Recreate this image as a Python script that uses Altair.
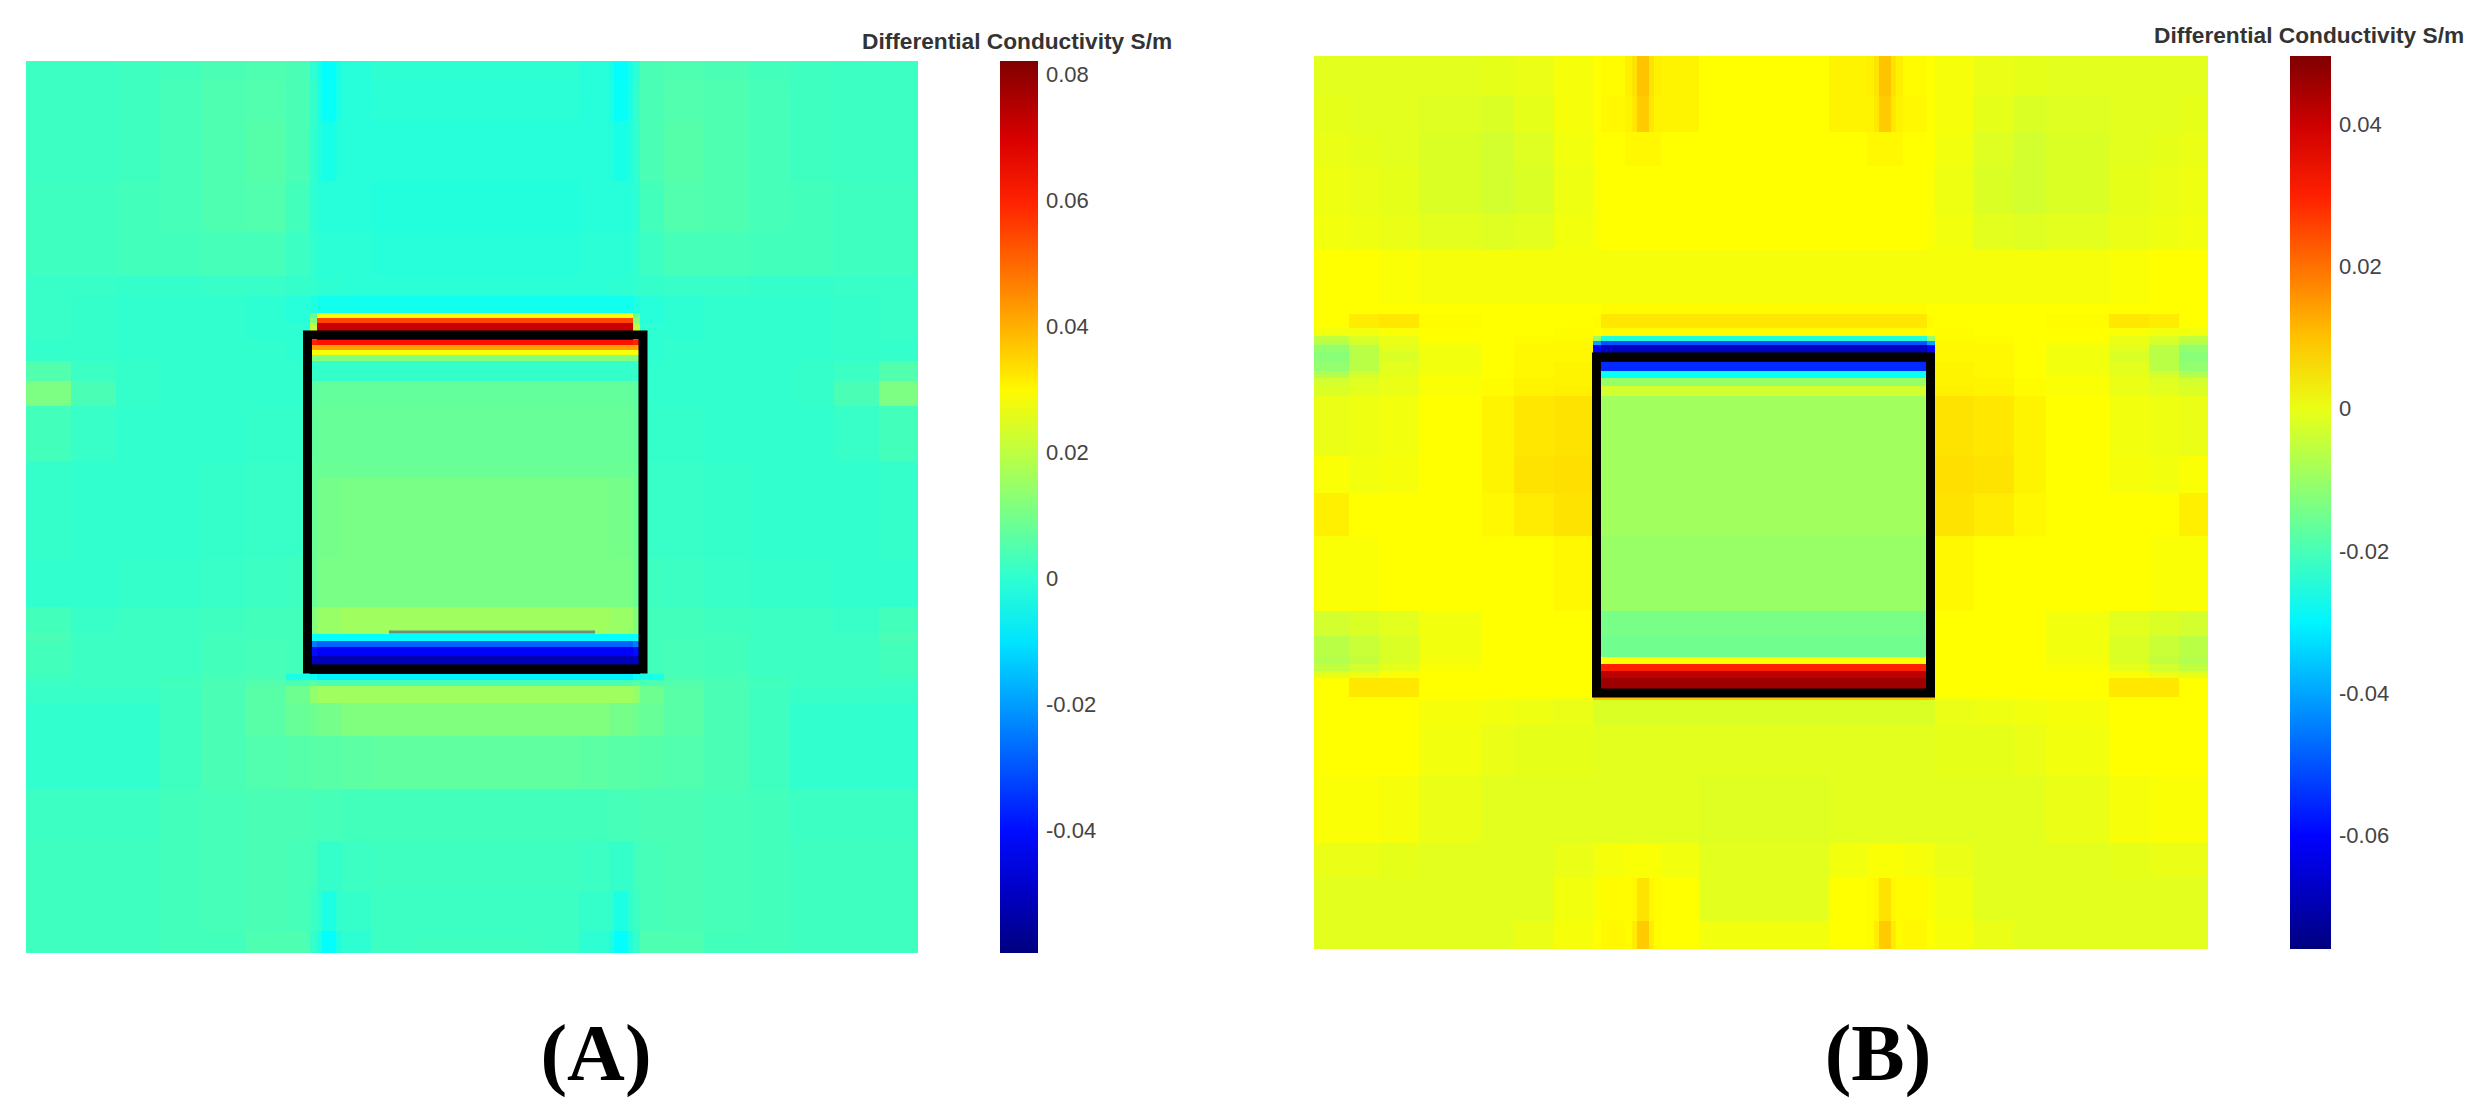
import altair as alt
import pandas as pd

FONT = "Liberation Sans"
TITLE = "Differential Conductivity S/m"
CAPTIONS = ["(A)", "(B)"]
JET = ["#000080", "#0000ff", "#00ffff", "#ffff00", "#ff0000", "#800000"]

# colour-bar ranges, S/m
STOPS_A = [-0.0594, -0.0417, -0.0063, 0.0292, 0.0646, 0.0823]
STOPS_B = [-0.0759, -0.0602, -0.0288, 0.0026, 0.0340, 0.0497]
TICKS_A = [0.08, 0.06, 0.04, 0.02, 0, -0.02, -0.04]
TICKS_B = [0.04, 0.02, 0, -0.02, -0.04, -0.06]

# grid cells: half of each panel (it is mirror symmetric), values in mS/m
X_HALF_A = [0, 45, 90, 134, 175, 220, 260, 284, 291, 315, 345, 385, 449]
Y_EDGES_A = [0, 20, 60, 120, 170, 215, 235, 252, 257, 262, 269, 279, 284, 289, 294, 300, 320, 345, 400, 417,
             496, 546, 573, 580, 586, 595, 603, 613, 619, 625, 642, 675, 728, 780, 830, 870, 892]
VALUES_A = [
    [2, 2, 2.5, 3, 4, 4.5, 4, 0, -6, -1, 0, 0],
    [2, 2, 2.5, 3.5, 4.5, 5, 4, 1, -5.5, -1, -0.5, -0.5],
    [2, 2, 2.5, 3.5, 4.5, 5.5, 4, 0.5, -3, -1, -1, -1],
    [2.5, 2.5, 3, 3.5, 4.5, 5, 3, 0, -1, -1, -1.5, -1.5],
    [2.5, 2.5, 3, 3, 3.5, 3.5, 2, 0.5, -0.5, -0.5, -1, -1],
    [1.5, 1.5, 1, 1, 1.5, 1.5, 1, 0.5, 0, -0.5, -0.5, -0.5],
    [1.5, 1, 0.5, 0.5, 0.5, 0, -1, -2, -4, -4, -4, -4],
    [1.5, 1, 0.5, 0.5, 0.5, 0, -1, 8, 28, 28, 28, 28],
    [1.5, 1, 0.5, 0.5, 0.5, 0, -1, 12, 55, 55, 55, 55],
    [1.5, 1, 0.5, 0.5, 0.5, 0, 0, 20, 72, 72, 72, 72],
    [1.5, 1, 0.5, 0.5, 0.5, 0, 0, 30, 78, 78, 78, 78],
    [1, 1, 0.5, 0.5, 0.5, 0.5, 0, 60, 62, 62, 62, 62],
    [1, 1, 0.5, 0.5, 0.5, 0.5, 0, 42, 42, 42, 42, 42],
    [1, 1, 0.5, 0.5, 0.5, 0.5, 0, 28, 28, 28, 28, 28],
    [1, 1, 0.5, 0.5, 0.5, 0.5, 0, 12, 12, 12, 12, 12],
    [5, 2, 1, 0.5, 0.5, 0.5, 0.5, 1, 1, 1, 1, 1],
    [11, 4, 1, 0.5, 0.5, 0.5, 0.5, 6.5, 7.5, 7.5, 7.5, 7.5],
    [3, 1.5, 0.5, 0.5, 0.5, 1, 1, 7.5, 8, 8, 8, 8],
    [1, 0.5, 0.5, 0.5, 1, 1.5, 1.5, 8, 8.5, 8.5, 8.5, 8.5],
    [1, 0.5, 0.5, 0.5, 1, 1.5, 1.5, 8.5, 10, 10.5, 10.5, 10.5],
    [0.5, 0.5, 1, 1, 1.5, 2, 2.5, 8.5, 10.5, 10.5, 10.5, 10.5],
    [3, 1.5, 2, 2, 2.5, 3, 3, 12, 15, 16, 16, 16],
    [4, 2, 2, 2, 3, 3, 3, -5, -6, -6, -6, -6],
    [3, 2, 2, 2, 3, 3.5, 3, -25, -28, -28, -28, -28],
    [3, 2, 2, 2, 3, 3.5, 3, -40, -42, -42, -42, -42],
    [3, 2, 2, 2, 3, 3.5, 3, -50, -52, -52, -52, -52],
    [3, 2, 2, 2, 3, 3.5, 3, -55, -57, -57, -57, -57],
    [2.5, 2, 2, 2.5, 3.5, 4, -3, -5, -8, -8, -8, -8],
    [2, 2, 2, 3, 4, 5, 4, 6, 4, 4, 4, 4],
    [1.5, 1.5, 1.5, 2.5, 4, 6, 9, 14, 16, 16, 16, 16],
    [0.5, 0.5, 0.5, 2.5, 4, 6, 8, 9, 10, 11.5, 11.5, 11.5],
    [0.5, 0.5, 0.5, 2.5, 4, 5, 5.5, 6, 6, 6.5, 7, 7],
    [2, 2, 2, 3, 3.5, 4, 4, 3.5, 3.5, 3, 3, 3],
    [2.5, 2.5, 2.5, 3, 3.5, 4, 3.5, 3, 1, 2, 2.5, 2.5],
    [2.5, 2.5, 2.5, 3, 3.5, 4, 3.5, 2, -2.5, 1, 2, 2],
    [2.5, 2.5, 2.5, 3, 3, 4.5, 4.5, 1, -6, 0, 2, 2.5],
]
# finer cells over the four spikes: x edges, then (y start, y end, values)
SPIKE_X_A = [291, 296, 310, 315]
SPIKE_ROWS_A = [
    (0, 20, [-3, -6, -3]),
    (20, 60, [-2.5, -5.5, -2.5]),
    (60, 120, [-1.5, -3, -1.5]),
    (830, 870, [0.5, -2.5, 0.5]),
    (870, 892, [-2, -6, -2]),
]

X_HALF_B = [0, 35, 65, 105, 168, 200, 240, 279, 287, 311, 347, 385, 450]
Y_EDGES_B = [0, 40, 76, 110, 158, 194, 248, 258, 272, 280, 285, 289, 296, 306, 315, 322, 330, 340, 400, 437,
             480, 555, 580, 601, 608, 615, 622, 633, 641, 644, 669, 720, 787, 822, 865, 893]
VALUES_B = [
    [-1, -1, -1, -1, -0.5, 0, 1.5, 2.5, 3, 5, 4, 2.6],
    [-0.5, -1, -1, -1.5, -2, -0.5, 1.5, 2.5, 3.5, 5, 4, 2.6],
    [0, -0.5, -1, -2, -3, -1.5, 1, 2.5, 2.6, 3.5, 2.6, 2.6],
    [0.5, 0, -0.5, -2, -3, -2, 0.5, 2, 2.6, 2.6, 2.6, 2.6],
    [1, 0.5, 0, -1, -1.5, -1, 1, 2, 2.6, 2.6, 2.6, 2.6],
    [2.6, 2.6, 2, 1.5, 1.5, 1.5, 1.5, 1.5, 1.5, 1.5, 1.5, 1.5],
    [2.6, 2.6, 2.6, 2.6, 2.6, 2.6, 2.6, 2.6, 3, 3, 3, 3],
    [2.6, 5, 5.5, 3, 2.6, 2.6, 2.6, 3, 5.5, 5.5, 5.5, 5.5],
    [1, 1, 2, 2.6, 2.6, 2.6, 3, 2.6, 3, 3, 3, 3],
    [-5, -2, 0, 2.6, 2.6, 3, 3, -10, -25, -25, -25, -25],
    [-7, -3, 0, 2, 2.6, 3, 3.5, -40, -50, -50, -50, -50],
    [-11, -6, -1, 1, 2.6, 3.5, 3.5, -60, -68, -68, -68, -68],
    [-12, -6, -2, 1, 2.6, 3.5, 3.5, -70, -74, -74, -74, -74],
    [-11, -6, -1, 1, 2.6, 3.5, 4, -55, -55, -55, -55, -55],
    [-7, -3, -0.5, 1.5, 2.6, 3.5, 4, -28, -28, -28, -28, -28],
    [-3, -1.5, 0, 2, 3, 4, 4, -10, -10, -10, -10, -10],
    [-2, -1, 0, 2, 3, 4, 4.5, -3, -3, -3, -3, -3],
    [0, 0.5, 1, 2.6, 4, 5.5, 6, -8, -9, -9, -9, -9],
    [2, 1, 1.5, 2.6, 4, 6, 6.5, -9, -9, -9, -9, -9],
    [4.5, 2.6, 2.6, 2.6, 3.5, 5, 6, -9, -9, -9, -9, -9],
    [2, 2, 2.6, 2.6, 2.6, 2.6, 3.5, -10, -10, -10, -10, -10],
    [-3, -2, -1, 1, 2.6, 2.6, 2.6, -14, -14, -14, -14, -14],
    [-6, -4, -2, 1, 2.6, 2.6, 2.6, -15, -15, -15, -15, -15],
    [-7, -5, -2, 1.5, 2.6, 2.6, 2.6, 2.6, 2.6, 2.6, 2.6, 2.6],
    [-5, -3, -0.5, 2, 2.6, 2.6, 2.6, 30, 30, 30, 30, 30],
    [-1, 0, 2, 2.6, 2.6, 2.6, 2.6, 42, 42, 42, 42, 42],
    [2.6, 5.5, 5.5, 2.6, 2.6, 2.6, 2.6, 46, 46, 46, 46, 46],
    [2.6, 5.5, 5.5, 2.6, 2.6, 2.6, 2.6, 48, 48, 48, 48, 48],
    [2.6, 2.6, 2.6, 2.6, 2, 1.5, 1, 10, 10, 10, 10, 10],
    [2.6, 2.6, 2.6, 1.5, 1, 0.5, 0, -2, -2, -2, -2, -2],
    [2.6, 2.6, 2.6, 1, 0, -0.5, -0.5, -1, -1, -1, -1, -1],
    [2, 2, 1.5, 0, -1, -1, -1, -1, -1, -1, -1, -1.5],
    [0, 0, -0.5, -1, -1, -1, 0, 1, 1.5, 2, 1, -1],
    [-1, -1, -1, -1, -1, -1, 1, 2, 3, 3, 2.6, -1],
    [-1, -1, -1, -1, -1, 0, 1.5, 2.5, 3.5, 3, 2.6, 1],
]
SPIKE_X_B = [311, 318, 323, 335, 340, 347]
SPIKE_ROWS_B = [
    (0, 40, [4.5, 6, 10, 6, 4.5]),
    (40, 76, [4, 5.5, 9, 5.5, 4]),
    (822, 865, [3, 3.5, 6, 3.5, 3]),
    (865, 893, [3, 5, 9, 5, 3]),
]

# outline of the square sample, grid units: left, right, top, bottom
SQUARE_A = [281.5, 617, 274, 608]
SQUARE_B = [282.5, 616.5, 301, 637]
# thin line inside the square of panel A: x start, x end, y
SEGMENT_A = [363, 569, 571]


def cells(x_half, y_edges, rows, width, spike_x, spike_rows):
    centre = x_half[-1]
    mirror = [2 * centre - e for e in reversed(x_half[:-1])]
    edges = [min(e, width) for e in x_half + mirror]
    out = []
    for r, row in enumerate(rows):
        full = row + row[::-1]
        for c, v in enumerate(full):
            out.append({"x0": edges[c], "x1": edges[c + 1], "y0": y_edges[r], "y1": y_edges[r + 1], "v": v / 1000})
    for y0, y1, vals in spike_rows:
        for c, v in enumerate(vals):
            a, b = spike_x[c], spike_x[c + 1]
            out.append({"x0": a, "x1": b, "y0": y0, "y1": y1, "v": v / 1000})
            out.append({"x0": 2 * centre - b, "x1": 2 * centre - a, "y0": y0, "y1": y1, "v": v / 1000})
    return pd.DataFrame(out)


def panel(df, stops, ticks, square, w, h, xr, yr, legend_x, legend_y, thick, title_xy, caption, caption_xy, extra=None):
    sx = alt.Scale(domain=[0, w], range=xr, nice=False, zero=False)
    sy = alt.Scale(domain=[0, h], range=yr, nice=False, zero=False)
    heat = alt.Chart(df).mark_rect(strokeWidth=0).encode(
        x=alt.X("x0:Q", scale=sx, axis=None),
        x2="x1:Q",
        y=alt.Y("y0:Q", scale=sy, axis=None),
        y2="y1:Q",
        color=alt.Color(
            "v:Q",
            scale=alt.Scale(domain=stops, range=JET, clamp=True, interpolate="rgb"),
            legend=alt.Legend(
                title=None, orient="none", legendX=legend_x, legendY=legend_y, direction="vertical",
                gradientLength=h, gradientThickness=thick, gradientStrokeWidth=0,
                values=ticks, labelFont=FONT, labelFontSize=22, labelColor="#444444", labelOffset=8,
                labelOverlap=False, labelExpr="replace(format(datum.value,'~g'),'\u2212','-')",
            ),
        ),
    )
    box = alt.Chart(pd.DataFrame([{"a": square[0], "b": square[1], "c": square[2], "d": square[3]}])).mark_rect(
        filled=False, stroke="black", strokeWidth=9, strokeJoin="miter"
    ).encode(
        x=alt.X("a:Q", scale=sx, axis=None), x2="b:Q",
        y=alt.Y("c:Q", scale=sy, axis=None), y2="d:Q",
    )
    layers = [heat, box]
    if extra:
        seg = alt.Chart(pd.DataFrame([{"a": extra[0], "b": extra[1], "c": extra[2]}])).mark_rule(
            color="#6f8f78", strokeWidth=3
        ).encode(
            x=alt.X("a:Q", scale=sx, axis=None), x2="b:Q",
            y=alt.Y("c:Q", scale=sy, axis=None),
        )
        layers.append(seg)
    head = alt.Chart(pd.DataFrame({"t": [TITLE]})).mark_text(
        font=FONT, fontSize=22.7, fontWeight="bold", color="#333333", align="left", baseline="middle"
    ).encode(x=alt.value(title_xy[0]), y=alt.value(title_xy[1]), text="t:N")
    cap = alt.Chart(pd.DataFrame({"t": [caption]})).mark_text(
        font="Liberation Serif", fontSize=80, fontWeight="bold", color="black", align="center", baseline="middle"
    ).encode(x=alt.value(caption_xy[0]), y=alt.value(caption_xy[1]), text="t:N")
    return alt.layer(*layers, head, cap)


a = panel(cells(X_HALF_A, Y_EDGES_A, VALUES_A, 892, SPIKE_X_A, SPIKE_ROWS_A), STOPS_A, TICKS_A, SQUARE_A, 892, 892,
          [18, 910], [53, 945], 992, 53, 38, (854, 34), CAPTIONS[0], (588, 1048), SEGMENT_A)
b = panel(cells(X_HALF_B, Y_EDGES_B, VALUES_B, 894, SPIKE_X_B, SPIKE_ROWS_B), STOPS_B, TICKS_B, SQUARE_B, 894, 893,
          [1306, 2200], [48, 941], 2282, 48, 41, (2146, 28), CAPTIONS[1], (1870, 1048))

chart = alt.layer(a, b).resolve_scale(x="independent", y="independent", color="independent").properties(
    width=2472, height=1101, padding=0, background="white"
).configure_view(stroke=None)

chart.save("out.html", embed_options={"renderer": "svg", "actions": False})
